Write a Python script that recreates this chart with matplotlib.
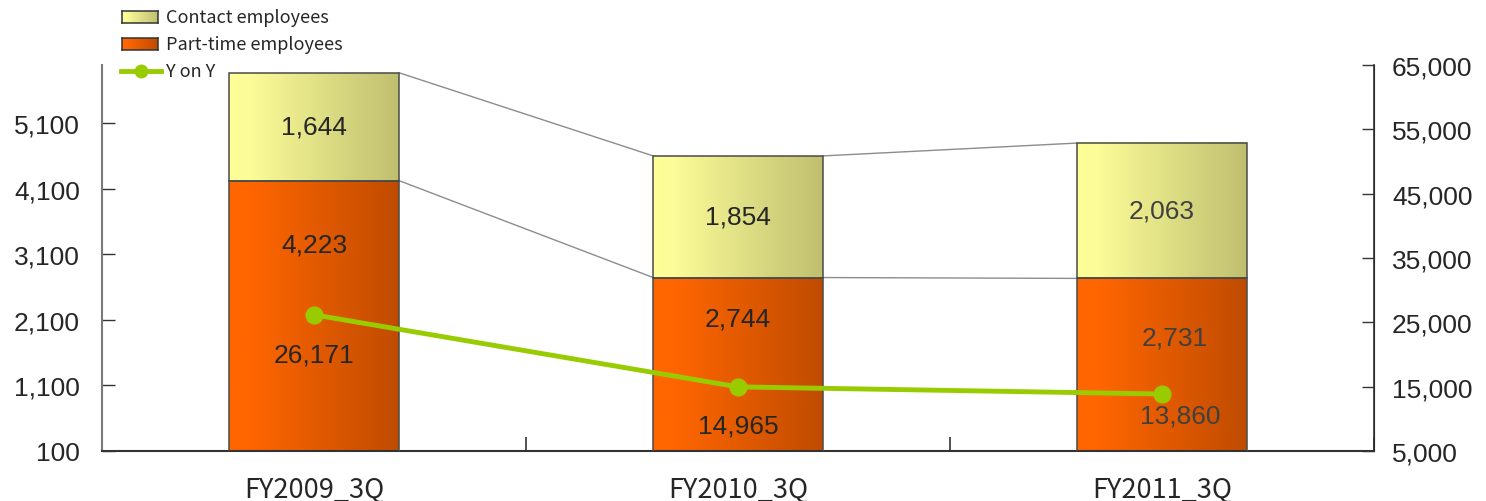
import numpy as np
import matplotlib
matplotlib.use('Agg')
import matplotlib.pyplot as plt
from matplotlib.colors import LinearSegmentedColormap
from matplotlib.lines import Line2D

# ---------------- data ----------------
categories = ['FY2009_3Q', 'FY2010_3Q', 'FY2011_3Q']
part_time = [4223, 2744, 2731]
contact = [1644, 1854, 2063]
yoy = [26171, 14965, 13860]
left_ticks = [100, 1100, 2100, 3100, 4100, 5100]
right_ticks = [5000, 15000, 25000, 35000, 45000, 55000, 65000]
legend_labels = ['Contact employees', 'Part-time employees', 'Y on Y']

W, H = 1486, 502
NUM_FONT = 'Liberation Sans'
CAT_FONT = ['Noto Sans CJK JP', 'DejaVu Sans']
FS = 19

orange_cmap = LinearSegmentedColormap.from_list(
    'og', [(0, '#FF6600'), (0.12, '#FF6600'), (1, '#C04C00')])
yellow_cmap = LinearSegmentedColormap.from_list(
    'yg', [(0, '#FFFF99'), (0.12, '#FCFC98'), (1, '#BFBF70')])
grad = np.linspace(0, 1, 256).reshape(1, -1)

fig = plt.figure(figsize=(W / 100, H / 100), dpi=100)
ax = fig.add_axes([102 / W, 50 / H, 1272 / W, 386 / H])
ax2 = ax.twinx()

x = np.arange(len(categories))
bw = 0.4
bars_pt = ax.bar(x, part_time, bw, facecolor='none', edgecolor='#4a4a4a', lw=1.1, zorder=3)
bars_ct = ax.bar(x, contact, bw, bottom=part_time, facecolor='none', edgecolor='#4a4a4a', lw=1.1, zorder=3)

for bars, cmap in ((bars_pt, orange_cmap), (bars_ct, yellow_cmap)):
    for p in bars:
        x0, y0 = p.get_x(), p.get_y()
        ax.imshow(grad, cmap=cmap, aspect='auto', zorder=2,
                  extent=[x0, x0 + p.get_width(), y0, y0 + p.get_height()])

# connector lines between bars
tops_pt = np.array(part_time)
tops_ct = np.array(part_time) + np.array(contact)
for i in range(len(categories) - 1):
    for tops in (tops_pt, tops_ct):
        ax.plot([x[i] + bw / 2, x[i + 1] - bw / 2], [tops[i], tops[i + 1]],
                color='#8c8c8c', lw=1.0, zorder=1.5)

ax.set_xlim(-0.5, len(categories) - 0.5)
ax.set_ylim(100, 5984)
ax2.set_ylim(5000, 65000)

# bar labels
for i, v in enumerate(contact):
    col = '#262626' if i < 2 else '#404040'
    ax.annotate(f'{v:,}', (x[i], part_time[i] + v / 2), ha='center', va='center',
                fontsize=FS, family=NUM_FONT, color=col, zorder=5)
pt_offsets = [(0, -64), (0, -41), (13, -59)]
for i, v in enumerate(part_time):
    col = '#262626' if i < 2 else '#404040'
    ax.annotate(f'{v:,}', (x[i], v), xytext=pt_offsets[i], textcoords='offset pixels',
                ha='center', va='center', fontsize=FS, family=NUM_FONT, color=col, zorder=5)

# YoY line
ax2.plot(x, yoy, color='#99CC00', lw=3.5, marker='o', markersize=12, zorder=4)
yoy_offsets = [(0, -40), (0, -39), (18, -21)]
for i, v in enumerate(yoy):
    col = '#262626' if i < 2 else '#404040'
    ax2.annotate(f'{v:,}', (x[i], v), xytext=yoy_offsets[i], textcoords='offset pixels',
                 ha='center', va='center', fontsize=FS, family=NUM_FONT, color=col, zorder=5)

# axes styling
ax.set_yticks(left_ticks)
ax.set_yticklabels([f'{t:,}' for t in left_ticks], fontsize=FS, family=NUM_FONT, color='#262626')
ax.tick_params(axis='y', direction='in', length=9, width=1, pad=16, color='#333333')
ax.set_xticks(x)
ax.set_xticklabels(categories, fontsize=19.5, family=CAT_FONT, color='#262626')
ax.set_xticks(np.arange(-0.5, len(categories), 1), minor=True)
ax.tick_params(axis='x', which='major', length=0, pad=18)
ax.tick_params(axis='x', which='minor', direction='in', length=10, width=1.2, color='#333333')

ax2.set_yticks(right_ticks)
ax2.set_yticklabels([f'{t:,}' for t in right_ticks], fontsize=FS, family=NUM_FONT, color='#262626')
ax2.tick_params(axis='y', direction='in', length=9, width=1, pad=13, color='#333333')

for a in (ax, ax2):
    a.spines['top'].set_visible(False)
ax.spines['left'].set_color('#7a7a7a')
ax.spines['left'].set_linewidth(1.5)
ax.spines['bottom'].set_color('#333333')
ax.spines['bottom'].set_linewidth(1.5)
ax2.spines['right'].set_color('#333333')
ax2.spines['right'].set_linewidth(1.2)
ax2.spines['left'].set_visible(False)
ax2.spines['bottom'].set_visible(False)

# manual legend
for yc, cmap in ((18, yellow_cmap), (45, orange_cmap)):
    la = fig.add_axes([122 / W, 1 - (yc + 6) / H, 36 / W, 12 / H])
    la.imshow(grad, cmap=cmap, aspect='auto')
    la.set_xticks([]); la.set_yticks([])
    for s in la.spines.values():
        s.set_color('#333333'); s.set_linewidth(1.1)
fig.add_artist(Line2D([121 / W, 161 / W], [1 - 72 / H] * 2, transform=fig.transFigure,
                      color='#99CC00', lw=3.5, zorder=10))
fig.add_artist(Line2D([141 / W], [1 - 72 / H], transform=fig.transFigure,
                      color='#99CC00', marker='o', markersize=9, zorder=10))
for yc, lab in zip((18, 45, 72), legend_labels):
    fig.text(166 / W, 1 - yc / H, lab, ha='left', va='center', fontsize=13,
             family=CAT_FONT, color='#262626')

fig.savefig('out.png', dpi=100)
